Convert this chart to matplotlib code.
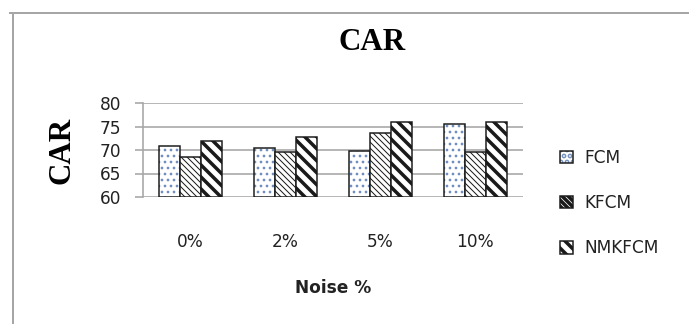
import matplotlib
matplotlib.use("Agg")
import matplotlib.pyplot as plt
from matplotlib.lines import Line2D
from matplotlib.patches import Patch
import numpy as np

noise = ["0%", "2%", "5%", "10%"]
fcm = [70.8, 70.4, 69.8, 75.6]
kfcm = [68.5, 69.6, 73.7, 69.6]
nmkfcm = [72.0, 72.8, 76.0, 76.0]

GRID = "#a6a6a6"
EDGE = "#1a1a1a"
DOT = "#6f8fc0"
TICK_FONT = "DejaVu Sans"

DOTS = ".."
THIN = "\\" * 4
THICK = "\\\\"


def hatch_width(bars, lw):
    for p in bars:
        if hasattr(p, "set_hatch_linewidth"):
            p.set_hatch_linewidth(lw)


def main():
    # dpi 72 so that points == pixels
    fig = plt.figure(figsize=(689 / 72, 324 / 72), dpi=72)
    ax = fig.add_axes([143 / 689, 1 - 197 / 324, 380 / 689, 94 / 324])

    x = np.arange(len(noise))
    w = 0.22

    ax.set_ylim(60, 80)
    ax.set_xlim(-0.5, len(noise) - 0.5)
    ax.set_yticks([60, 65, 70, 75, 80])
    ax.yaxis.grid(True, color=GRID, linewidth=1.6)
    ax.set_axisbelow(True)

    # FCM: blue dots underneath, black outline on top
    plt.rcParams["hatch.linewidth"] = 1.5
    b1 = ax.bar(x - w, [v - 60 for v in fcm], w, bottom=60, color="white",
                edgecolor=DOT, hatch=DOTS, linewidth=0)
    hatch_width(b1, 1.5)
    ax.bar(x - w, [v - 60 for v in fcm], w, bottom=60, color="none",
           edgecolor=EDGE, linewidth=1.5)

    plt.rcParams["hatch.linewidth"] = 1.0
    b2 = ax.bar(x, [v - 60 for v in kfcm], w, bottom=60, color="white",
                edgecolor=EDGE, hatch=THIN, linewidth=1.5)
    hatch_width(b2, 1.0)

    plt.rcParams["hatch.linewidth"] = 3.5
    b3 = ax.bar(x + w, [v - 60 for v in nmkfcm], w, bottom=60, color="white",
                edgecolor=EDGE, hatch=THICK, linewidth=1.5)
    hatch_width(b3, 3.5)

    for side in ["top", "right", "bottom"]:
        ax.spines[side].set_visible(False)
    ax.spines["left"].set_color(GRID)
    ax.spines["left"].set_linewidth(1.6)

    ax.set_xticks(x)
    ax.set_xticklabels(noise, fontsize=17, family=TICK_FONT, color="#222222")
    ax.tick_params(axis="x", length=0, pad=36)
    ax.tick_params(axis="y", length=8, width=1.6, color=GRID, pad=14,
                   labelsize=17, labelcolor="#222222")
    for t in ax.get_yticklabels():
        t.set_family(TICK_FONT)

    fig.text(372 / 689, 1 - 42 / 324, "CAR", ha="center", va="center",
             fontsize=31, fontweight="bold", family="Liberation Serif")
    fig.text(62 / 689, 1 - 150 / 324, "CAR", ha="center", va="center",
             rotation=90, fontsize=31, fontweight="bold", family="Liberation Serif")
    fig.text(333 / 689, 1 - 288 / 324, "Noise %", ha="center", va="center",
             fontsize=17, fontweight="bold", family=TICK_FONT, color="#222222")

    plt.rcParams["hatch.linewidth"] = 1.5
    h1 = (Patch(facecolor="white", edgecolor=DOT, hatch=DOTS, linewidth=0),
          Patch(facecolor="none", edgecolor=EDGE, linewidth=1.5))
    plt.rcParams["hatch.linewidth"] = 1.0
    h2 = Patch(facecolor="white", edgecolor=EDGE, hatch=THIN, linewidth=1.5)
    plt.rcParams["hatch.linewidth"] = 3.5
    h3 = Patch(facecolor="white", edgecolor=EDGE, hatch=THICK, linewidth=1.5)
    for h, lw in [(h1[0], 1.5), (h2, 1.0), (h3, 3.5)]:
        if hasattr(h, "set_hatch_linewidth"):
            h.set_hatch_linewidth(lw)

    leg = fig.legend([h1, h2, h3], ["FCM", "KFCM", "NMKFCM"],
                     loc="upper left", bbox_to_anchor=(560 / 689, 1 - 149 / 324),
                     frameon=False, handlelength=0.75,
                     handleheight=0.75, handletextpad=0.7, labelspacing=1.6,
                     borderpad=0, borderaxespad=0,
                     prop={"family": TICK_FONT, "size": 17})
    for t in leg.get_texts():
        t.set_color("#222222")

    # chart area border (top and left edges)
    fig.add_artist(Line2D([10 / 689, 1], [1 - 13 / 324, 1 - 13 / 324],
                          color=GRID, linewidth=2, transform=fig.transFigure))
    fig.add_artist(Line2D([13 / 689, 13 / 689], [0, 1 - 13 / 324],
                          color=GRID, linewidth=2, transform=fig.transFigure))

    fig.savefig("out.png", dpi=72)


if __name__ == "__main__":
    main()
